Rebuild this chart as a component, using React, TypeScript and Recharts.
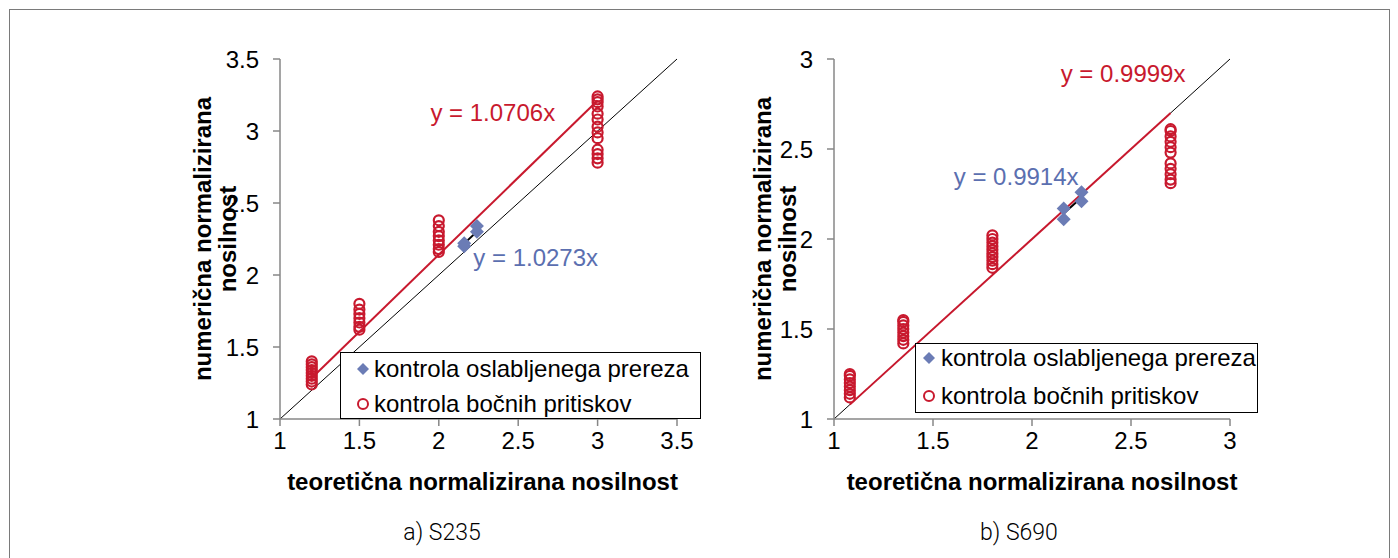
import React from 'react';
import {
  ScatterChart,
  Scatter,
  XAxis,
  YAxis,
  ReferenceLine,
  ReferenceDot,
  Legend,
  Label,
} from 'recharts';

const RED = '#c8192e';
const BLUE = '#6b7cb5';
const BLUE_TEXT = '#5b6fb0';
const AXIS = '#878787';
const FONT = '"Liberation Sans", Arial, sans-serif';

const SERIES_NET = 'kontrola oslabljenega prereza';
const SERIES_LAT = 'kontrola bočnih pritiskov';
const X_TITLE = 'teoretična normalizirana nosilnost';
const Y_TITLE = ['numerična normalizirana', 'nosilnost'];

// a) S235
const s235Ticks = [1, 1.5, 2, 2.5, 3, 3.5];
const s235LatX = [1.2, 1.5, 2, 3];
const s235LatY = [
  [1.24, 1.26, 1.28, 1.3, 1.32, 1.34, 1.36, 1.38, 1.4],
  [1.62, 1.64, 1.67, 1.7, 1.73, 1.76, 1.8],
  [2.16, 2.18, 2.21, 2.24, 2.27, 2.3, 2.34, 2.38],
  [2.78, 2.81, 2.84, 2.87, 2.95, 2.99, 3.03, 3.08, 3.12, 3.17, 3.2, 3.22, 3.24],
];
const s235NetX = [2.16, 2.16, 2.24, 2.24];
const s235NetY = [2.2, 2.22, 2.3, 2.34];
const s235LatSlope = 1.0706;
const s235NetSlope = 1.0273;

// b) S690
const s690Ticks = [1, 1.5, 2, 2.5, 3];
const s690LatX = [1.08, 1.35, 1.8, 2.7];
const s690LatY = [
  [1.12, 1.14, 1.16, 1.18, 1.2, 1.22, 1.24, 1.25],
  [1.42, 1.44, 1.46, 1.48, 1.5, 1.52, 1.54, 1.55],
  [1.84, 1.86, 1.88, 1.9, 1.92, 1.94, 1.96, 1.98, 2.0, 2.02],
  [2.31, 2.33, 2.36, 2.39, 2.42, 2.48, 2.51, 2.54, 2.57, 2.6, 2.61],
];
const s690NetX = [2.16, 2.16, 2.25, 2.25];
const s690NetY = [2.11, 2.17, 2.21, 2.26];
const s690LatSlope = 0.9999;
const s690NetSlope = 0.9914;

const columns = (xs: number[], ys: number[][]) =>
  xs.flatMap((x, i) => ys[i].map((y) => ({ x, y })));
const pairs = (xs: number[], ys: number[]) => xs.map((x, i) => ({ x, y: ys[i] }));
const fit = (xs: number[], k: number) => {
  const lo = Math.min(...xs);
  const hi = Math.max(...xs);
  return [
    { x: lo, y: lo * k },
    { x: hi, y: hi * k },
  ];
};

const Diamond = (p: any) => (
  <polygon
    points={`${p.cx},${p.cy - 7} ${p.cx + 7},${p.cy} ${p.cx},${p.cy + 7} ${p.cx - 7},${p.cy}`}
    fill={BLUE}
  />
);

const Ring = (p: any) => (
  <circle cx={p.cx} cy={p.cy} r={5} fill="none" stroke={RED} strokeWidth={2.2} />
);

function LegendBox({ markerX, textX, rows }: { markerX: number; textX: number; rows: number[] }) {
  const row = (y: number): React.CSSProperties => ({
    position: 'absolute',
    top: y - 14,
    height: 28,
    lineHeight: '28px',
    left: textX,
    whiteSpace: 'nowrap',
  });
  return (
    <div
      style={{
        position: 'relative',
        width: '100%',
        height: '100%',
        boxSizing: 'border-box',
        border: '1px solid #000',
        background: '#fff',
        fontSize: 24,
        color: '#000',
      }}
    >
      <svg style={{ position: 'absolute', left: markerX - 7, top: rows[0] - 7 }} width={14} height={14}>
        <polygon points="7,1 13,7 7,13 1,7" fill={BLUE} />
      </svg>
      <div style={row(rows[0])}>{SERIES_NET}</div>
      <svg style={{ position: 'absolute', left: markerX - 7, top: rows[1] - 7 }} width={14} height={14}>
        <circle cx={7} cy={7} r={5} fill="#fff" stroke={RED} strokeWidth={2} />
      </svg>
      <div style={row(rows[1])}>{SERIES_LAT}</div>
    </div>
  );
}

type PanelProps = {
  left: number;
  width: number;
  marginLeft: number;
  marginRight: number;
  ticks: number[];
  latX: number[];
  latY: number[][];
  netX: number[];
  netY: number[];
  latSlope: number;
  netSlope: number;
  latLabelAt: [number, number];
  netLabelAt: [number, number];
  yTitleOffset: number;
  xTitleDx: number;
  legendBox: { left: number; top: number; width: number; height: number };
  legendInner: { markerX: number; textX: number; rows: number[] };
};

function Panel(p: PanelProps) {
  const lo = p.ticks[0];
  const hi = p.ticks[p.ticks.length - 1];
  const lat = columns(p.latX, p.latY);
  const net = pairs(p.netX, p.netY);
  const latFit = fit(p.latX, p.latSlope);
  const netFit = fit(p.netX, p.netSlope);
  const tickStyle = { fill: '#000', fontSize: 24 };

  return (
    <div style={{ position: 'absolute', left: p.left, top: 0 }}>
      <ScatterChart
        width={p.width}
        height={520}
        margin={{ top: 59, right: p.marginRight, bottom: 41, left: p.marginLeft }}
      >
        <XAxis
          type="number"
          dataKey="x"
          domain={[lo, hi]}
          ticks={p.ticks}
          interval={0}
          height={60}
          stroke={AXIS}
          strokeWidth={1.5}
          tickSize={7}
          tickMargin={6}
          tick={tickStyle}
        >
          <Label
            content={(lp: any) => {
              const vb = lp.viewBox;
              return (
                <text
                  x={vb.x + vb.width / 2 + p.xTitleDx}
                  y={vb.y + 71}
                  textAnchor="middle"
                  fontSize={24}
                  fontWeight="bold"
                  fill="#000"
                >
                  {X_TITLE}
                </text>
              );
            }}
          />
        </XAxis>
        <YAxis
          type="number"
          dataKey="y"
          domain={[lo, hi]}
          ticks={p.ticks}
          interval={0}
          width={60}
          stroke={AXIS}
          strokeWidth={1.5}
          tickSize={7}
          tickMargin={14}
          tick={tickStyle}
        >
          <Label
            content={(lp: any) => {
              const vb = lp.viewBox;
              const x = vb.x + vb.width - p.yTitleOffset;
              const y = vb.y + vb.height / 2;
              return (
                <text
                  transform={`translate(${x},${y}) rotate(-90)`}
                  textAnchor="middle"
                  fontSize={24}
                  fontWeight="bold"
                  fill="#000"
                >
                  <tspan x={0} y={0}>
                    {Y_TITLE[0]}
                  </tspan>
                  <tspan x={0} y={25}>
                    {Y_TITLE[1]}
                  </tspan>
                </text>
              );
            }}
          />
        </YAxis>
        <Scatter name={SERIES_NET} data={net} shape={Diamond} isAnimationActive={false} />
        <Scatter name={SERIES_LAT} data={lat} shape={Ring} isAnimationActive={false} />
        <ReferenceLine
          segment={[
            { x: lo, y: lo },
            { x: hi, y: hi },
          ]}
          stroke="#000"
          strokeWidth={1}
        />
        <ReferenceLine segment={latFit} stroke={RED} strokeWidth={2} />
        <ReferenceLine segment={netFit} stroke="#000" strokeWidth={2} />
        <ReferenceDot
          x={p.latLabelAt[0]}
          y={p.latLabelAt[1]}
          r={0}
          stroke="none"
          label={{ value: `y = ${p.latSlope.toFixed(4)}x`, position: 'center', fill: RED, fontSize: 24 }}
        />
        <ReferenceDot
          x={p.netLabelAt[0]}
          y={p.netLabelAt[1]}
          r={0}
          stroke="none"
          label={{ value: `y = ${p.netSlope.toFixed(4)}x`, position: 'center', fill: BLUE_TEXT, fontSize: 24 }}
        />
        <Legend
          layout="horizontal"
          verticalAlign="middle"
          align="center"
          wrapperStyle={{ ...p.legendBox }}
          content={() => <LegendBox {...p.legendInner} />}
        />
      </ScatterChart>
    </div>
  );
}

const captionStyle = (cx: number): React.CSSProperties => ({
  position: 'absolute',
  left: cx - 100,
  width: 200,
  top: 521,
  lineHeight: '23px',
  fontSize: 23,
  fontFamily: 'Roboto, sans-serif',
  fontWeight: 300,
  textAlign: 'center',
  color: '#000',
});

export default function App() {
  return (
    <div
      style={{
        position: 'absolute',
        left: 0,
        top: 0,
        width: 1398,
        height: 558,
        overflow: 'hidden',
        background: '#fff',
        fontFamily: FONT,
      }}
    >
      <div
        style={{
          position: 'absolute',
          left: 9,
          top: 9,
          width: 1379,
          height: 600,
          border: '1.5px solid #7a7a7a',
        }}
      />
      <Panel
        left={0}
        width={705}
        marginLeft={220}
        marginRight={28}
        ticks={s235Ticks}
        latX={s235LatX}
        latY={s235LatY}
        netX={s235NetX}
        netY={s235NetY}
        latSlope={s235LatSlope}
        netSlope={s235NetSlope}
        latLabelAt={[2.34, 3.13]}
        netLabelAt={[2.61, 2.12]}
        yTitleOffset={69}
        xTitleDx={4}
        legendBox={{ left: 340, top: 352, width: 361, height: 67 }}
        legendInner={{ markerX: 22, textX: 33, rows: [16, 51] }}
      />
      <Panel
        left={712}
        width={600}
        marginLeft={62}
        marginRight={82}
        ticks={s690Ticks}
        latX={s690LatX}
        latY={s690LatY}
        netX={s690NetX}
        netY={s690NetY}
        latSlope={s690LatSlope}
        netSlope={s690NetSlope}
        latLabelAt={[2.46, 2.92]}
        netLabelAt={[1.92, 2.35]}
        yTitleOffset={63}
        xTitleDx={10}
        legendBox={{ left: 203, top: 343, width: 343, height: 70 }}
        legendInner={{ markerX: 13, textX: 25, rows: [14, 52] }}
      />
      <div style={captionStyle(442)}>a) S235</div>
      <div style={captionStyle(1019)}>b) S690</div>
    </div>
  );
}
